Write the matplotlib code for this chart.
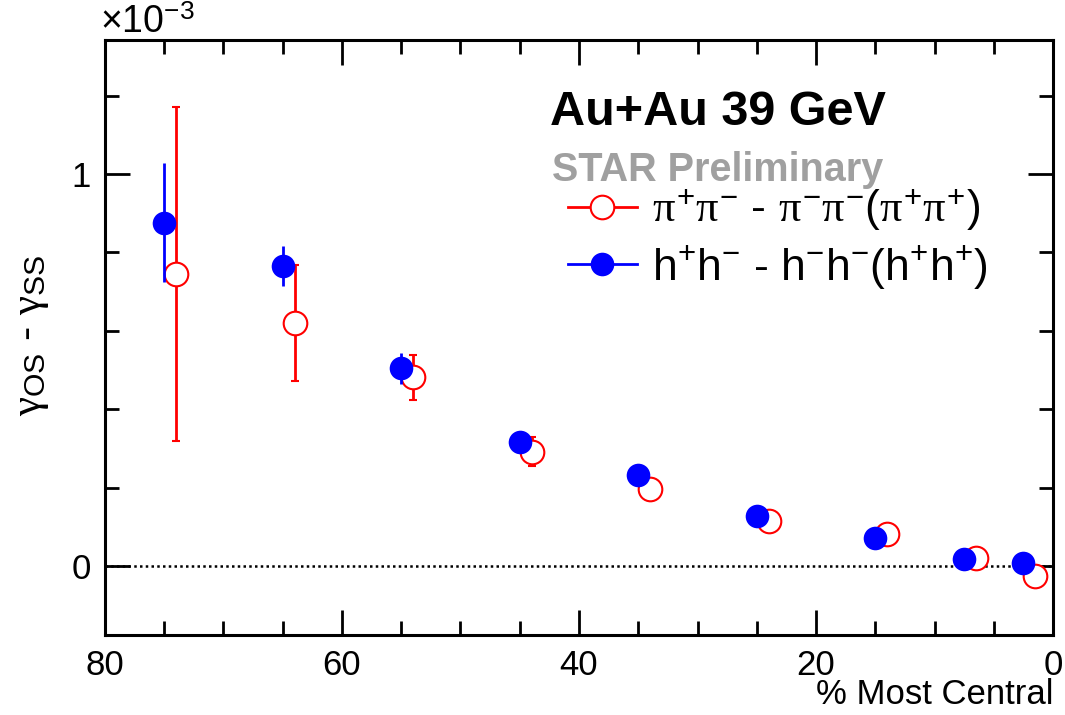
import matplotlib
matplotlib.use("Agg")
import matplotlib.pyplot as plt
from matplotlib.lines import Line2D
from matplotlib.ticker import MultipleLocator, FixedLocator

plt.rcParams["font.family"] = ["Liberation Sans", "DejaVu Sans"]
plt.rcParams["mathtext.fontset"] = "custom"
plt.rcParams["mathtext.rm"] = "Liberation Sans"
plt.rcParams["mathtext.it"] = "Liberation Serif"
plt.rcParams["mathtext.bf"] = "Liberation Sans:bold"

# gamma_OS - gamma_SS in units of 1e-3 versus centrality
cent_h = [75, 65, 55, 45, 35, 25, 15, 7.5, 2.5]
gamma_h = [0.876, 0.765, 0.504, 0.316, 0.232, 0.128, 0.071, 0.017, 0.007]
err_h = [0.151, 0.052, 0.040, 0.018, 0.015, 0.010, 0.008, 0.006, 0.005]

cent_pi = [74, 64, 54, 44, 34, 24, 14, 6.5, 1.5]
gamma_pi = [0.745, 0.619, 0.481, 0.292, 0.196, 0.116, 0.082, 0.020, -0.026]
err_pi = [0.427, 0.148, 0.058, 0.038, 0.025, 0.018, 0.015, 0.012, 0.012]

x_ticks = [80, 60, 40, 20, 0]
y_ticks = [0, 1]

label_pi = r"$\pi^{+}\pi^{-}$ - $\pi^{-}\pi^{-}(\pi^{+}\pi^{+})$"
label_h = r"$\mathrm{h^{+}h^{-}}$ - $\mathrm{h^{-}h^{-}(h^{+}h^{+})}$"

RED = "#ff0000"
BLUE = "#0000ff"

fig = plt.figure(figsize=(10.65, 7.15), dpi=100)
ax = fig.add_axes([105 / 1065, 80 / 715, 948 / 1065, 595.5 / 715])

ax.set_xlim(80, 0)
ax.set_ylim(-0.176, 1.343)

ax.axhline(0, color="black", lw=1.8, ls=(0, (1, 1.3)), zorder=1)

ax.errorbar(cent_pi, gamma_pi, yerr=err_pi, fmt="o", color=RED, ecolor=RED,
            elinewidth=2, capsize=3, capthick=2, ms=17, mfc="white",
            mec=RED, mew=1.5, zorder=3)
ax.errorbar(cent_h, gamma_h, yerr=err_h, fmt="o", color=BLUE, ecolor=BLUE,
            elinewidth=2, capsize=3, capthick=2, ms=17, mfc=BLUE,
            mec=BLUE, mew=0, zorder=4)

# ticks on all four sides, pointing inwards
ax.xaxis.set_major_locator(FixedLocator(x_ticks))
ax.xaxis.set_minor_locator(MultipleLocator(5))
ax.yaxis.set_major_locator(FixedLocator(y_ticks))
ax.yaxis.set_minor_locator(MultipleLocator(0.2))
ax.set_xticklabels([str(v) for v in x_ticks])
ax.set_yticklabels([str(v) for v in y_ticks])
ax.tick_params(which="both", direction="in", top=True, right=True,
               width=2, labelsize=25, color="black")
ax.tick_params(which="major", length=18, pad=10)
ax.tick_params(which="minor", length=10)
for s in ax.spines.values():
    s.set_linewidth(2.2)

fig.text(100 / 1065, 1 - 33 / 715, r"$\times10^{-3}$", fontsize=27,
         ha="left", va="baseline")

fig.text(1053 / 1065, 1 - 704 / 715, "% Most Central", fontsize=25,
         ha="right", va="baseline")
fig.text(31 / 1065, 1 - 335 / 715,
         r"$\gamma_{\mathrm{OS}}$ - $\gamma_{\mathrm{SS}}$",
         rotation=90, fontsize=31, ha="center", va="center")

ax.text((550 - 105) / 948, (635 - 125) / 595.5, "Au+Au 39 GeV",
        transform=ax.transAxes, fontsize=35, fontweight="bold",
        ha="left", va="baseline")
ax.text((552 - 105) / 948, (635 - 181) / 595.5, "STAR Preliminary",
        transform=ax.transAxes, fontsize=28.5, fontweight="bold",
        color="#a0a0a0", ha="left", va="baseline")

handles = [
    Line2D([], [], color=RED, lw=2, marker="o", ms=17, mfc="white",
           mec=RED, mew=1.5),
    Line2D([], [], color=BLUE, lw=2, marker="o", ms=17, mfc=BLUE,
           mec=BLUE, mew=0),
]
ax.legend(handles, [label_pi, label_h], loc="upper left",
          bbox_to_anchor=((568 - 105) / 948, (635 - 188) / 595.5),
          frameon=False, fontsize=32, handlelength=1.55, handletextpad=0.35,
          labelspacing=0.22, borderaxespad=0, borderpad=0)

fig.savefig("out.png", dpi=100)
